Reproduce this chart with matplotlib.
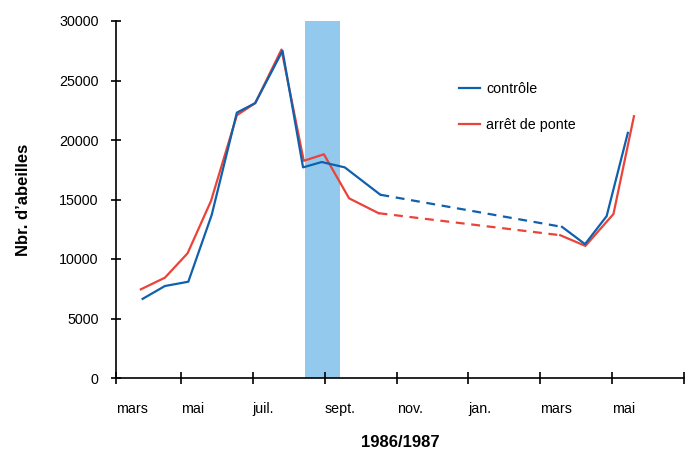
#!/usr/bin/env python3
# coding: utf-8

import matplotlib
matplotlib.use('Agg')
import matplotlib.pyplot as plt

plt.rcParams['font.family'] = ['Liberation Sans', 'DejaVu Sans']

# x in months from 1 March 1986
ctrl_x1 = [0.94, 1.56, 2.21, 2.86, 3.56, 4.07, 4.83, 5.40, 5.92, 6.56, 7.55]
ctrl_y1 = [6650, 7730, 8090, 13700, 22300, 23100, 27500, 17700, 18150, 17700, 15400]
ctrl_x2 = [12.60, 13.24, 13.84, 14.43]
ctrl_y2 = [12700, 11250, 13600, 20600]

arret_x1 = [0.89, 1.56, 2.19, 2.84, 3.56, 4.07, 4.80, 5.42, 5.98, 6.68, 7.50]
arret_y1 = [7450, 8430, 10480, 14870, 22080, 23100, 27600, 18250, 18800, 15100, 13850]
arret_x2 = [12.55, 13.25, 14.03, 14.60]
arret_y2 = [12000, 11100, 13780, 22000]

band = (5.45, 6.42)  # période d'arrêt de ponte

tick_pos = [0.2, 2, 4, 6, 8, 10, 12, 14, 16]
tick_lab = ['mars', 'mai', 'juil.', 'sept.', 'nov.', 'jan.', 'mars', 'mai', '']

BLUE = '#0f60ad'
RED = '#ea4339'

fig = plt.figure(figsize=(6.85, 4.51), dpi=100)
ax = fig.add_axes([116/685, 1 - 378/451, 1 - 116/685 - 0.001, (378 - 21)/451])

ax.axvspan(band[0], band[1], color='#94c9ee', lw=0, zorder=0)

lw = 1.6
ax.plot(ctrl_x1, ctrl_y1, color=BLUE, lw=lw, label='contrôle', zorder=3)
ax.plot(ctrl_x2, ctrl_y2, color=BLUE, lw=lw, zorder=3)
ax.plot([ctrl_x1[-1], ctrl_x2[0]], [ctrl_y1[-1], ctrl_y2[0]], color=BLUE, lw=lw,
        ls=(0, (4, 3)), zorder=3)
ax.plot(arret_x1, arret_y1, color=RED, lw=lw, label='arrêt de ponte', zorder=2)
ax.plot(arret_x2, arret_y2, color=RED, lw=lw, zorder=2)
ax.plot([arret_x1[-1], arret_x2[0]], [arret_y1[-1], arret_y2[0]], color=RED, lw=lw,
        ls=(0, (4, 3)), zorder=2)

ax.set_xlim(0.2, 16)
ax.set_ylim(0, 30000)
ax.set_yticks(range(0, 30001, 5000))
ax.set_xticks(tick_pos)
ax.set_xticklabels(tick_lab, ha='left')

for s in ['top', 'right']:
    ax.spines[s].set_visible(False)
for s in ['left', 'bottom']:
    ax.spines[s].set_linewidth(1.2)
    ax.spines[s].set_color('black')

ax.tick_params(axis='y', direction='inout', length=7, width=1.2, pad=9, labelsize=10.3)
ax.tick_params(axis='x', direction='inout', length=8, width=1.2, pad=13, labelsize=10.3)

ax.set_ylabel("Nbr. d’abeilles", fontsize=12, fontweight='bold', labelpad=20)
ax.set_xlabel('1986/1987', fontsize=12, fontweight='bold', labelpad=14)

ax.legend(loc='upper left', bbox_to_anchor=(459/685, 1 - 82/451),
          bbox_transform=fig.transFigure, frameon=False, fontsize=10.3,
          handlelength=1.5, handletextpad=0.4, labelspacing=1.55, borderpad=0,
          borderaxespad=0)

fig.savefig('out.png', dpi=100)
